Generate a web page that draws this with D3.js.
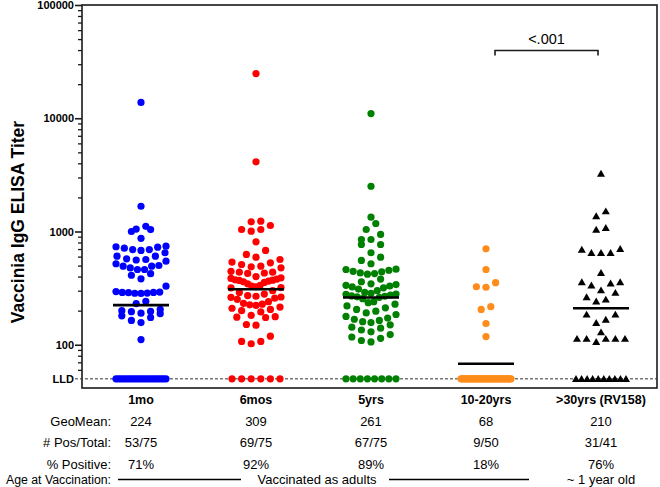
<!DOCTYPE html>
<html><head><meta charset="utf-8">
<script src="https://cdn.jsdelivr.net/npm/d3@7"></script>
<style>
html,body{margin:0;padding:0;background:#fff;}
svg{display:block;font-family:"Liberation Sans",Arial,Helvetica,sans-serif;}
</style></head>
<body><svg id="chart" width="660" height="487"></svg>
<script>
// ---------- data ----------
const categories = ["1mo", "6mos", "5yrs", "10-20yrs", ">30yrs (RV158)"];
const colors = ["#0000ff", "#ff0000", "#008000", "#ff8c1a", "#000000"];
const LLD = 50;
const lldCounts = [22, 6, 8, 41, 10];
const pos1mo = [13800, 1670, 1110, 1050, 1040, 1000, 870, 742, 733, 727, 713, 693, 693, 680, 649, 606, 606, 574, 566, 560, 547, 519, 501, 494, 494, 477, 462, 462, 424, 411, 382, 329, 295, 292, 290, 290, 288, 286, 285, 284, 242, 231, 205, 200, 197, 196, 190, 188, 180, 174, 164, 157, 111];
const pos6mos = [24800, 4120, 1233, 1217, 1130, 1041, 1041, 1006, 811, 680, 627, 593, 566, 537, 529, 511, 494, 488, 478, 445, 437, 437, 430, 426, 400, 390, 385, 380, 375, 372, 370, 365, 360, 355, 345, 335, 329, 325, 320, 318, 300, 290, 280, 272, 268, 264, 262, 258, 252, 240, 232, 228, 225, 223, 215, 210, 205, 200, 195, 182, 177, 175, 174, 151, 149, 119, 107, 102, 107];
const pos5yrs = [11000, 2510, 1337, 1176, 1041, 942, 850, 850, 768, 768, 649, 593, 555, 519, 465, 462, 455, 445, 440, 431, 425, 420, 380, 360, 345, 340, 335, 330, 324, 318, 310, 300, 290, 285, 280, 278, 275, 270, 268, 265, 262, 255, 240, 235, 228, 220, 212, 205, 198, 191, 185, 178, 172, 168, 164, 160, 157, 150, 143, 140, 135, 130, 123, 117, 114, 109, 106];
const pos10to20 = [703, 462, 353, 322, 325, 217, 205, 154, 118];
const pos30plus = [3250, 1510, 1365, 1078, 1041, 703, 693, 649, 649, 649, 432, 357, 357, 348, 334, 303, 288, 263, 251, 242, 185, 185, 167, 156, 113, 113, 113, 106, 113, 113, 129];
const positives = [pos1mo, pos6mos, pos5yrs, pos10to20, pos30plus];
const geoMeans = [224, 309, 261, 68, 210];
const posTotal = ["53/75", "69/75", "67/75", "9/50", "31/41"];
const pctPositive = ["71%", "92%", "89%", "18%", "76%"];
const majorTicks = [100, 1000, 10000, 100000];
const pValue = "<.001";

// ---------- chart ----------
const svg = d3.select("#chart");
const frame = {left: 82, right: 657, top: 5, bottom: 388};
const y = d3.scaleLog().domain([41.5, 100000]).range([frame.bottom, frame.top]);
const x = d3.scalePoint().domain(categories).range([141, 601]);

// frame
svg.append("rect").attr("x", frame.left).attr("y", frame.top)
  .attr("width", frame.right - frame.left).attr("height", frame.bottom - frame.top)
  .attr("fill", "none").attr("stroke", "#1a1a1a").attr("stroke-width", 1.6);

// LLD dashed line
svg.append("line").attr("x1", 75).attr("x2", frame.right)
  .attr("y1", y(LLD)).attr("y2", y(LLD))
  .attr("stroke", "#333").attr("stroke-width", 1).attr("stroke-dasharray", "3,2");

// minor ticks
const minorTicks = [];
for (let e = 1; e <= 4; e++) for (let k = 2; k <= 9; k++) {
  const v = k * Math.pow(10, e);
  if (v > 55 && v < 100000) minorTicks.push(v);
}
const minorAxis = d3.axisLeft(y).tickValues(minorTicks).tickFormat("").tickSize(4).tickSizeOuter(0);
const gMin = svg.append("g").attr("transform", `translate(${frame.left},0)`).call(minorAxis);
gMin.select(".domain").remove();
gMin.selectAll("line").attr("stroke", "#1a1a1a").attr("stroke-width", 1.3);

const majorAxis = d3.axisLeft(y).tickValues(majorTicks).tickFormat(d3.format("d")).tickSize(7).tickSizeOuter(0);
const gMaj = svg.append("g").attr("transform", `translate(${frame.left},0)`).call(majorAxis);
gMaj.select(".domain").remove();
gMaj.selectAll("line").attr("stroke", "#1a1a1a").attr("stroke-width", 1.6);
gMaj.selectAll("text").attr("font-size", 11).attr("font-weight", "bold")
  .attr("font-family", "Liberation Sans, Arial, sans-serif").attr("fill", "#000").attr("x", -8);

svg.append("text").attr("x", 74).attr("y", y(LLD)).attr("dy", "0.35em")
  .attr("text-anchor", "end").attr("font-size", 11).attr("font-weight", "bold").text("LLD");

// y title
svg.append("text").attr("transform", `translate(24,222) rotate(-90)`)
  .attr("text-anchor", "middle").attr("font-size", 17.5).attr("font-weight", "bold")
  .text("Vaccinia IgG ELISA Titer");

// ---------- swarm layout ----------
const binH = 9, dMax = 9.6, maxW = 50;
function swarm(values) {
  const pts = values.map(v => ({v, py: y(v)})).sort((a, b) => b.py - a.py);
  const rows = [];
  let cur = [];
  for (const p of pts) {
    if (cur.length && (cur[0].py - p.py) >= binH) { rows.push(cur); cur = []; }
    cur.push(p);
  }
  if (cur.length) rows.push(cur);
  for (const row of rows) {
    const n = row.length;
    const s = n > 1 ? Math.min(dMax, maxW / (n - 1)) : 0;
    const slots = d3.range(n).map(j => (j - (n - 1) / 2) * s)
      .sort((a, b) => Math.abs(a) - Math.abs(b) || a - b);
    row.forEach((p, i) => p.dx = slots[i]);
  }
  return pts;
}

categories.forEach((cat, i) => {
  const vals = positives[i].concat(d3.range(lldCounts[i]).map(() => LLD));
  const pts = swarm(vals);
  const g = svg.append("g");
  if (i === 4) {
    g.selectAll("path").data(pts).join("path")
      .attr("d", d3.symbol(d3.symbolTriangle, 28))
      .attr("transform", p => `translate(${x(cat) + p.dx},${p.py + 0.8})`)
      .attr("fill", colors[i]);
  } else {
    g.selectAll("circle").data(pts).join("circle")
      .attr("cx", p => x(cat) + p.dx).attr("cy", p => p.py).attr("r", 3.6)
      .attr("fill", colors[i]);
  }
  // geometric mean line
  svg.append("line").attr("x1", x(cat) - 28).attr("x2", x(cat) + 28)
    .attr("y1", y(geoMeans[i])).attr("y2", y(geoMeans[i]))
    .attr("stroke", "#000").attr("stroke-width", 2.6);
});

// significance bracket
const bx1 = x(categories[3]) + 9, bx2 = x(categories[4]) - 3, by = 50.5;
svg.append("path").attr("d", `M${bx1},${by + 5}V${by}H${bx2}V${by + 5}`)
  .attr("fill", "none").attr("stroke", "#1a1a1a").attr("stroke-width", 1.6);
svg.append("text").attr("x", (bx1 + bx2) / 2).attr("y", by - 7).attr("text-anchor", "middle")
  .attr("font-size", 14.5).text(pValue);

// ---------- table below ----------
const labelX = 111;
const rowY = [404, 425.5, 447, 468.5];
svg.append("g").selectAll("text").data(categories).join("text")
  .attr("x", d => x(d)).attr("y", rowY[0]).attr("text-anchor", "middle")
  .attr("font-size", 12.5).attr("font-weight", "bold").text(d => d);

const tableRows = [["GeoMean:", geoMeans], ["# Pos/Total:", posTotal], ["% Positive:", pctPositive]];
tableRows.forEach(([lab, arr], r) => {
  svg.append("text").attr("x", labelX).attr("y", rowY[r + 1]).attr("text-anchor", "end")
    .attr("font-size", 13).text(lab);
  svg.append("g").selectAll("text").data(arr).join("text")
    .attr("x", (d, i) => x(categories[i])).attr("y", rowY[r + 1]).attr("text-anchor", "middle")
    .attr("font-size", 13).text(d => d);
});

const ageY = 484;
svg.append("text").attr("x", labelX).attr("y", ageY).attr("text-anchor", "end")
  .attr("font-size", 12.3).text("Age at Vaccination:");
svg.append("line").attr("x1", 118).attr("x2", 241).attr("y1", ageY - 4.5).attr("y2", ageY - 4.5)
  .attr("stroke", "#000").attr("stroke-width", 1.3);
svg.append("text").attr("x", 317).attr("y", ageY).attr("text-anchor", "middle")
  .attr("font-size", 13).text("Vaccinated as adults");
svg.append("line").attr("x1", 389).attr("x2", 529).attr("y1", ageY - 4.5).attr("y2", ageY - 4.5)
  .attr("stroke", "#000").attr("stroke-width", 1.3);
svg.append("text").attr("x", x(categories[4])).attr("y", ageY).attr("text-anchor", "middle")
  .attr("font-size", 13).text("~ 1 year old");
</script></body></html>
